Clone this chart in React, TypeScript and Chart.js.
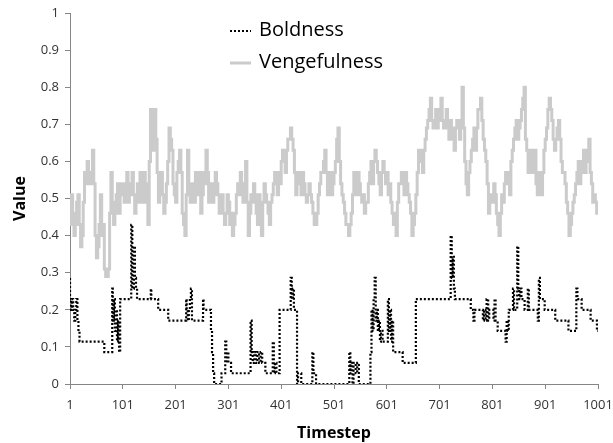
import React, { useEffect, useRef } from "react";
import { Chart, registerables } from "chart.js";

Chart.register(...registerables);

const xTickValues = [1, 101, 201, 301, 401, 501, 601, 701, 801, 901, 1001];

// Boldness (step-like, dotted)
const boldT = [
  1, 3, 5, 7, 9, 11, 13, 15, 17, 19, 21, 66, 67, 81, 82, 84, 86, 88, 90, 92,
  94, 96, 98, 117, 119, 122, 124, 126, 128, 130, 154, 155, 156, 168, 170, 187, 189, 221, 222, 224,
  226, 228, 230, 232, 234, 253, 254, 256, 268, 270, 272, 274, 276, 288, 290, 295, 297, 299, 301, 303,
  306, 309, 343, 345, 347, 350, 353, 356, 359, 362, 365, 368, 371, 373, 385, 387, 389, 392, 395, 398,
  400, 419, 421, 423, 425, 427, 431, 433, 435, 439, 441, 460, 462, 464, 467, 470, 530, 532, 534, 536,
  538, 542, 545, 548, 551, 570, 572, 574, 576, 578, 580, 582, 584, 586, 588, 590, 593, 595, 603, 605,
  607, 609, 611, 613, 615, 631, 634, 656, 658, 722, 724, 726, 728, 730, 732, 760, 762, 765, 767, 769,
  783, 785, 788, 790, 793, 795, 797, 803, 805, 807, 809, 811, 813, 826, 828, 830, 832, 834, 840, 842,
  844, 848, 850, 852, 854, 856, 858, 862, 864, 868, 870, 872, 887, 889, 891, 893, 900, 902, 920, 922,
  945, 947, 960, 962, 964, 970, 972, 987, 989, 999, 1001,
];
const boldV = [
  0.286, 0.229, 0.2, 0.229, 0.2, 0.171, 0.2, 0.229, 0.171, 0.143, 0.114, 0.114, 0.086, 0.086, 0.257, 0.171, 0.229, 0.143, 0.2, 0.114,
  0.171, 0.086, 0.229, 0.229, 0.429, 0.257, 0.371, 0.286, 0.257, 0.229, 0.229, 0.257, 0.229, 0.229, 0.2, 0.2, 0.171, 0.171, 0.229, 0.2,
  0.171, 0.2, 0.229, 0.257, 0.171, 0.171, 0.229, 0.2, 0.2, 0.143, 0.086, 0.029, 0, 0, 0.029, 0.029, 0.114, 0.057, 0.086, 0.057,
  0.057, 0.029, 0.029, 0.171, 0.086, 0.057, 0.086, 0.057, 0.086, 0.057, 0.086, 0.057, 0.057, 0.029, 0.029, 0.114, 0.029, 0.057, 0.029, 0.029,
  0.2, 0.2, 0.286, 0.229, 0.257, 0.2, 0.2, 0, 0.029, 0.029, 0, 0, 0.086, 0.029, 0.029, 0, 0, 0.086, 0.029, 0.057,
  0, 0.057, 0.029, 0.057, 0, 0, 0.086, 0.2, 0.143, 0.229, 0.286, 0.171, 0.2, 0.143, 0.171, 0.114, 0.143, 0.114, 0.114, 0.229,
  0.143, 0.2, 0.114, 0.171, 0.086, 0.086, 0.057, 0.057, 0.229, 0.229, 0.4, 0.286, 0.343, 0.257, 0.229, 0.229, 0.2, 0.2, 0.171, 0.2,
  0.2, 0.171, 0.2, 0.171, 0.229, 0.171, 0.2, 0.2, 0.171, 0.229, 0.171, 0.171, 0.143, 0.143, 0.114, 0.171, 0.143, 0.2, 0.2, 0.257,
  0.2, 0.2, 0.371, 0.257, 0.229, 0.257, 0.229, 0.229, 0.2, 0.2, 0.257, 0.2, 0.2, 0.171, 0.286, 0.229, 0.229, 0.2, 0.2, 0.171,
  0.171, 0.143, 0.143, 0.257, 0.229, 0.229, 0.2, 0.2, 0.171, 0.171, 0.143,
];

// Vengefulness, read every 2.5 timesteps starting at timestep 1
const vengStart = 1;
const vengStep = 2.5;
const vengV = [
  0.46, 0.43, 0.51, 0.46, 0.40, 0.43, 0.49, 0.51, 0.43, 0.37, 0.40, 0.49, 0.57, 0.54, 0.60, 0.57, 0.54, 0.57, 0.63, 0.54,
  0.40, 0.34, 0.37, 0.43, 0.51, 0.40, 0.43, 0.31, 0.29, 0.29, 0.31, 0.46, 0.57, 0.49, 0.43, 0.46, 0.51, 0.54, 0.46, 0.51,
  0.54, 0.51, 0.49, 0.54, 0.57, 0.49, 0.51, 0.54, 0.57, 0.51, 0.46, 0.49, 0.54, 0.49, 0.57, 0.51, 0.49, 0.57, 0.54, 0.49,
  0.43, 0.60, 0.74, 0.74, 0.63, 0.74, 0.66, 0.57, 0.49, 0.54, 0.57, 0.51, 0.46, 0.49, 0.54, 0.60, 0.69, 0.66, 0.63, 0.54,
  0.51, 0.49, 0.57, 0.60, 0.63, 0.57, 0.46, 0.43, 0.40, 0.51, 0.63, 0.54, 0.49, 0.51, 0.54, 0.49, 0.57, 0.51, 0.54, 0.57,
  0.46, 0.51, 0.57, 0.54, 0.63, 0.57, 0.49, 0.51, 0.54, 0.49, 0.51, 0.57, 0.54, 0.51, 0.46, 0.49, 0.51, 0.46, 0.43, 0.46,
  0.51, 0.49, 0.43, 0.46, 0.40, 0.43, 0.46, 0.51, 0.54, 0.51, 0.57, 0.54, 0.49, 0.54, 0.60, 0.49, 0.40, 0.46, 0.51, 0.49,
  0.54, 0.51, 0.46, 0.43, 0.51, 0.46, 0.40, 0.49, 0.54, 0.51, 0.49, 0.46, 0.43, 0.49, 0.51, 0.54, 0.57, 0.54, 0.51, 0.57,
  0.54, 0.60, 0.63, 0.60, 0.57, 0.63, 0.66, 0.66, 0.69, 0.66, 0.63, 0.57, 0.51, 0.54, 0.57, 0.54, 0.51, 0.57, 0.54, 0.51,
  0.49, 0.51, 0.54, 0.51, 0.49, 0.46, 0.43, 0.43, 0.46, 0.51, 0.54, 0.57, 0.57, 0.60, 0.63, 0.57, 0.51, 0.54, 0.57, 0.51,
  0.54, 0.57, 0.60, 0.66, 0.69, 0.60, 0.54, 0.51, 0.49, 0.46, 0.43, 0.43, 0.40, 0.43, 0.46, 0.51, 0.57, 0.54, 0.51, 0.57,
  0.54, 0.51, 0.49, 0.51, 0.46, 0.49, 0.49, 0.54, 0.57, 0.60, 0.54, 0.60, 0.63, 0.60, 0.57, 0.54, 0.51, 0.57, 0.60, 0.57,
  0.54, 0.57, 0.51, 0.54, 0.49, 0.46, 0.43, 0.46, 0.40, 0.49, 0.54, 0.54, 0.57, 0.54, 0.51, 0.57, 0.54, 0.51, 0.49, 0.46,
  0.40, 0.43, 0.46, 0.51, 0.57, 0.63, 0.60, 0.63, 0.57, 0.63, 0.66, 0.69, 0.71, 0.74, 0.77, 0.71, 0.69, 0.71, 0.74, 0.69,
  0.71, 0.74, 0.77, 0.71, 0.69, 0.71, 0.74, 0.69, 0.66, 0.71, 0.69, 0.66, 0.63, 0.69, 0.71, 0.69, 0.66, 0.71, 0.80, 0.69,
  0.60, 0.54, 0.51, 0.57, 0.60, 0.63, 0.66, 0.69, 0.63, 0.69, 0.74, 0.74, 0.77, 0.71, 0.66, 0.63, 0.60, 0.54, 0.46, 0.49,
  0.51, 0.49, 0.54, 0.51, 0.46, 0.43, 0.40, 0.46, 0.51, 0.49, 0.54, 0.57, 0.57, 0.54, 0.51, 0.60, 0.63, 0.66, 0.69, 0.71,
  0.66, 0.69, 0.71, 0.74, 0.77, 0.80, 0.66, 0.63, 0.57, 0.60, 0.63, 0.57, 0.60, 0.63, 0.54, 0.51, 0.57, 0.54, 0.51, 0.57,
  0.63, 0.66, 0.69, 0.74, 0.77, 0.74, 0.71, 0.66, 0.63, 0.66, 0.69, 0.71, 0.66, 0.60, 0.57, 0.57, 0.54, 0.49, 0.46, 0.40,
  0.43, 0.46, 0.49, 0.51, 0.54, 0.57, 0.60, 0.54, 0.57, 0.60, 0.63, 0.57, 0.60, 0.63, 0.66, 0.57, 0.54, 0.49, 0.51, 0.49,
  0.46,
];

const seriesNames = ["Boldness", "Vengefulness"];
const boldColor = "#000000";
const vengColor = "#cbcbcb";
const axisColor = "#868686";
const textColor = "#333333";
const FONT = "'Open Sans', 'Liberation Sans', sans-serif";

const legendPlugin = {
  id: "insideLegend",
  afterDraw(chart: any) {
    const ctx = chart.ctx;
    ctx.save();
    ctx.font = `20px ${FONT}`;
    ctx.fillStyle = "#000";
    ctx.textBaseline = "middle";
    ctx.textAlign = "left";
    const items = [
      { name: seriesNames[0], y: 30, dash: [2, 2], color: boldColor, w: 2 },
      { name: seriesNames[1], y: 62, dash: [], color: vengColor, w: 3 },
    ];
    for (const it of items) {
      ctx.beginPath();
      ctx.setLineDash(it.dash);
      ctx.strokeStyle = it.color;
      ctx.lineWidth = it.w;
      ctx.moveTo(230, it.y + 1);
      ctx.lineTo(251, it.y + 1);
      ctx.stroke();
      ctx.setLineDash([]);
      ctx.fillText(it.name, 259, it.y);
    }
    ctx.restore();
  },
};

export default function App() {
  const ref = useRef<HTMLCanvasElement | null>(null);
  useEffect(() => {
    if (!ref.current) return;
    const boldData = boldT.map((t, i) => ({ x: t, y: boldV[i] }));
    const vengData = vengV.map((v, i) => ({ x: vengStart + i * vengStep, y: v }));
    const chart = new Chart(ref.current, {
      type: "line",
      data: {
        datasets: [
          {
            label: seriesNames[0],
            data: boldData,
            borderColor: boldColor,
            borderWidth: 2.2,
            borderDash: [2, 2],
            pointRadius: 0,
            stepped: "after",
            fill: false,
          },
          {
            label: seriesNames[1],
            data: vengData,
            borderColor: vengColor,
            borderWidth: 3,
            pointRadius: 0,
            stepped: "after",
            fill: false,
          },
        ],
      },
      options: {
        animation: false,
        responsive: false,
        devicePixelRatio: 1,
        layout: { padding: { top: 13, right: 15, left: 0, bottom: 0 } },
        plugins: {
          legend: { display: false },
          tooltip: { enabled: false },
        },
        scales: {
          x: {
            type: "linear",
            min: 1,
            max: 1001,
            afterBuildTicks: (s: any) => {
              s.ticks = xTickValues.map((v) => ({ value: v }));
            },
            afterFit: (s: any) => {
              s.height = 59;
              s.paddingLeft = 0;
              s.paddingRight = 0;
            },
            ticks: {
              autoSkip: false,
              maxRotation: 0,
              padding: 8,
              color: textColor,
              font: { family: FONT, size: 13 },
              callback: (v: any) => String(v),
            },
            grid: { drawOnChartArea: false, tickLength: 5, color: axisColor },
            border: { color: axisColor, width: 1 },
            title: {
              display: true,
              text: "Timestep",
              color: "#000",
              font: { family: FONT, size: 16, weight: "bold" },
              padding: { top: 2, bottom: 0 },
            },
          },
          y: {
            min: 0,
            max: 1,
            afterFit: (s: any) => {
              s.width = 70;
              s.paddingTop = 0;
              s.paddingBottom = 0;
            },
            ticks: {
              stepSize: 0.1,
              padding: 6,
              color: textColor,
              font: { family: FONT, size: 13 },
              callback: (v: any) => String(Math.round(Number(v) * 10) / 10),
            },
            grid: { drawOnChartArea: false, tickLength: 5, color: axisColor },
            border: { color: axisColor, width: 1 },
            title: {
              display: true,
              text: "Value",
              color: "#000",
              font: { family: FONT, size: 16, weight: "bold" },
              padding: { top: 11, bottom: 0 },
            },
          },
        },
      },
      plugins: [legendPlugin],
    });
    return () => chart.destroy();
  }, []);
  return (
    <div style={{ position: "fixed", left: 0, top: 0, width: 613, height: 443, background: "#fff" }}>
      <canvas ref={ref} width={613} height={443} />
    </div>
  );
}
